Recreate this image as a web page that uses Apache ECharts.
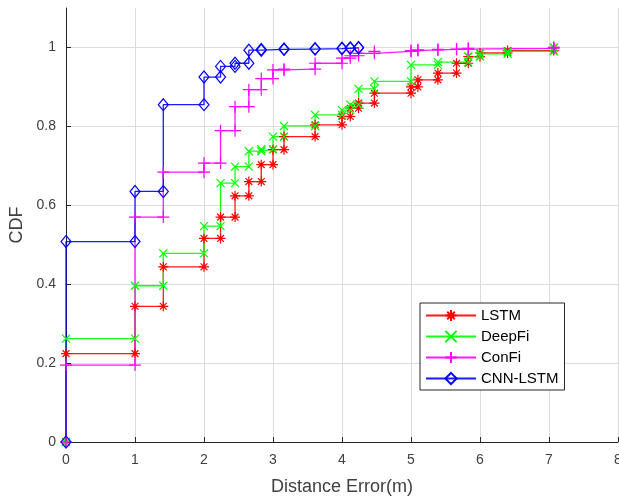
<!DOCTYPE html>
<html>
<head>
<meta charset="utf-8">
<script src="https://cdn.jsdelivr.net/npm/echarts@6/dist/echarts.min.js"></script>
<style>
html,body{margin:0;padding:0;background:#fff;}
#chart{width:619px;height:497px;}
</style>
</head>
<body>
<div id="chart"></div>
<script>
// Distance error values (m) where each CDF step occurs, and CDF value after the step
const lstmX   = [0, 1, 1.41, 2, 2.24, 2.45, 2.65, 2.83, 3.0, 3.16, 3.61, 4.0, 4.12, 4.24, 4.47, 5.0, 5.1, 5.39, 5.66, 5.83, 6.0, 6.4, 7.07];
const lstmCdf = [0.224, 0.344, 0.444, 0.516, 0.570, 0.624, 0.660, 0.703, 0.741, 0.774, 0.804, 0.825, 0.846, 0.859, 0.884, 0.900, 0.918, 0.935, 0.960, 0.977, 0.986, 0.992, 1.0];

const deepX   = [0, 1, 1.41, 2, 2.24, 2.45, 2.65, 2.83, 3.0, 3.16, 3.61, 4.0, 4.12, 4.24, 4.47, 5.0, 5.39, 5.83, 6.0, 6.4, 7.07];
const deepCdf = [0.262, 0.396, 0.478, 0.547, 0.656, 0.698, 0.737, 0.742, 0.774, 0.801, 0.829, 0.841, 0.855, 0.895, 0.914, 0.956, 0.963, 0.977, 0.984, 0.990, 1.0];

const confiX   = [0, 1, 1.41, 2, 2.24, 2.45, 2.65, 2.83, 3.0, 3.16, 3.61, 4.0, 4.12, 4.24, 4.47, 5.0, 5.1, 5.39, 5.66, 5.83, 7.07];
const confiCdf = [0.195, 0.570, 0.684, 0.707, 0.789, 0.850, 0.893, 0.921, 0.943, 0.945, 0.960, 0.973, 0.979, 0.985, 0.990, 0.992, 0.994, 0.995, 0.996, 0.998, 1.0];

const cnnX   = [0, 1, 1.41, 2, 2.24, 2.45, 2.65, 2.83, 3.16, 3.61, 4.0, 4.12, 4.24];
const cnnCdf = [0.508, 0.635, 0.855, 0.925, 0.952, 0.960, 0.993, 0.995, 0.996, 0.997, 0.998, 0.999, 1.0];

const seriesNames = ['LSTM', 'DeepFi', 'ConFi', 'CNN-LSTM'];
const xTicks = [0, 1, 2, 3, 4, 5, 6, 7, 8];
const yTicks = [0, 0.2, 0.4, 0.6, 0.8, 1];

function stairs(xs, ys) {
  const pts = [];
  let prev = 0;
  for (let i = 0; i < xs.length; i++) {
    pts.push([xs[i], prev]);
    pts.push([xs[i], ys[i]]);
    prev = ys[i];
  }
  return pts;
}

const SYM_STAR = 'path://M5 0L5 10M0 5L10 5M1.6 1.6L8.4 8.4M8.4 1.6L1.6 8.4';
const SYM_X = 'path://M0 0L10 10M10 0L0 10';
const SYM_PLUS = 'path://M5 0L5 10M0 5L10 5';

function mk(name, data, color, symbol, size) {
  return {
    name: name,
    type: 'line',
    data: data,
    symbol: symbol,
    symbolSize: size,
    showSymbol: true,
    showAllSymbol: true,
    animation: false,
    lineStyle: { color: color, width: 1.3, opacity: 0.9 },
    itemStyle: { color: 'rgba(0,0,0,0)', borderColor: color, borderWidth: 1.2 },
    emphasis: { disabled: true },
    z: 3
  };
}

const chart = echarts.init(document.getElementById('chart'), null, { renderer: 'canvas' });
const FONT = '"Liberation Sans", Arial, Helvetica, sans-serif';
const TXT = '#404040';
chart.setOption({
  animation: false,
  backgroundColor: '#ffffff',
  textStyle: { fontFamily: FONT },
  grid: { left: 66, right: 1, top: 8, bottom: 55, containLabel: false, outerBoundsMode: 'none' },
  xAxis: {
    type: 'value', min: 0, max: 8, interval: 1,
    name: 'Distance Error(m)', nameLocation: 'middle', nameGap: 36,
    nameTextStyle: { fontSize: 18, color: TXT, fontFamily: FONT },
    axisLine: { show: true, onZero: false, lineStyle: { color: '#262626', width: 1 } },
    axisTick: { show: true, inside: true, length: 5, lineStyle: { color: '#262626' } },
    axisLabel: { fontSize: 14, color: TXT, margin: 11, fontFamily: FONT,
      formatter: function (v) { return xTicks.indexOf(v) >= 0 ? String(v) : ''; } },
    splitLine: { show: true, lineStyle: { color: '#dcdcdc', width: 1 } }
  },
  yAxis: {
    type: 'value', min: 0, max: 1.1, interval: 0.2,
    name: 'CDF', nameLocation: 'middle', nameGap: 38,
    nameTextStyle: { fontSize: 18, color: TXT, fontFamily: FONT },
    axisLine: { show: true, onZero: false, lineStyle: { color: '#262626', width: 1 } },
    axisTick: { show: true, inside: true, length: 5, lineStyle: { color: '#262626' }, customValues: yTicks },
    axisLabel: { fontSize: 14, color: TXT, margin: 10, fontFamily: FONT, customValues: yTicks,
      formatter: function (v) { return String(Math.round(v * 10) / 10); } },
    splitLine: { show: true, lineStyle: { color: '#dcdcdc', width: 1 } }
  },
  legend: {
    show: true,
    data: seriesNames,
    orient: 'vertical',
    left: 420, top: 303,
    padding: [5, 6, 4, 5],
    itemGap: 6,
    itemWidth: 50,
    itemHeight: 14,
    backgroundColor: '#ffffff',
    borderColor: '#262626',
    borderWidth: 1,
    textStyle: { fontSize: 15, color: '#000', fontFamily: FONT },
    selectedMode: false
  },
  series: [
    mk(seriesNames[0], stairs(lstmX, lstmCdf), '#ff0000', SYM_STAR, 10),
    mk(seriesNames[1], stairs(deepX, deepCdf), '#00ff00', SYM_X, 8),
    mk(seriesNames[2], stairs(confiX, confiCdf), '#ff00ff', SYM_PLUS, 12),
    mk(seriesNames[3], stairs(cnnX, cnnCdf), '#0000ff', 'diamond', [10, 12])
  ]
});
</script>
</body>
</html>
